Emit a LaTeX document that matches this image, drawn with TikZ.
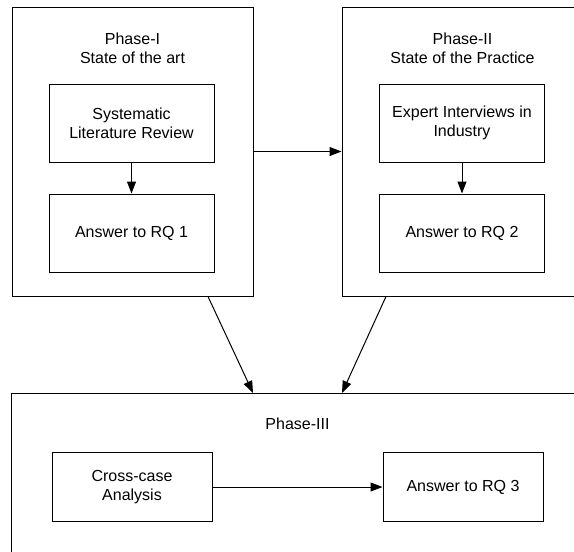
\documentclass[tikz,border=0pt]{standalone}
\usepackage{fontspec}
\setmainfont{Liberation Sans}
\usetikzlibrary{arrows.meta, positioning}

\begin{document}
\begin{tikzpicture}[x=1pt, y=1pt, -{Triangle[length=12pt, width=9pt]}, line width=1pt,
                    node distance=31pt]
  \tikzstyle{every node}=[font=\fontsize{16}{19}\selectfont, align=center]
  \tikzstyle{phase}=[draw, minimum width=241pt, minimum height=289pt]
  \tikzstyle{step box}=[draw, minimum width=165pt, minimum height=78pt, inner sep=2pt]
  \tikzstyle{title}=[anchor=north, inner sep=0pt]

  \useasboundingbox (0,0) rectangle (574,-552);
  \clip (0,0) rectangle (574,-552);

  \node[phase]    (p1)  at (132.5,-151.5)              {};
  \node[phase]    (p2)  at (462.5,-151.5)              {};
  \node[draw, minimum width=573pt, minimum height=177pt] (p3) at (297.5,-482) {};

  \node[title]    (t1)  at (132.5,-32)                 {Phase-I\\State of the art};
  \node[title]    (t2)  at (462.5,-32)                 {Phase-II\\State of the Practice};
  \node[inner sep=0pt] (t3) at (297.5,-424)            {Phase-III};

  \node[step box] (slr) at (131.5,-123)                {Systematic\\Literature Review};
  \node[step box] (rq1) [below=of slr]                 {Answer to RQ 1};
  \node[step box] (exp) at (462,-123)                  {Expert Interviews in\\Industry};
  \node[step box] (rq2) [below=of exp]                 {Answer to RQ 2};

  \node[step box, minimum width=160pt, minimum height=69pt] (cca) at (132,-487)
                                                       {Cross-case\\Analysis};
  \node[step box, minimum width=160pt, minimum height=69pt] (rq3) [right=170pt of cca]
                                                       {Answer to RQ 3};

  \draw (slr) -- (rq1);
  \draw (exp) -- (rq2);
  \draw (p1) -- (p2);
  \draw ([xshift=75.5pt]p1.south) -- ([xshift=-44.5pt]p3.north);
  \draw ([xshift=-76.5pt]p2.south) -- ([xshift=44.5pt]p3.north);
  \draw (cca) -- (rq3);
\end{tikzpicture}
\end{document}
